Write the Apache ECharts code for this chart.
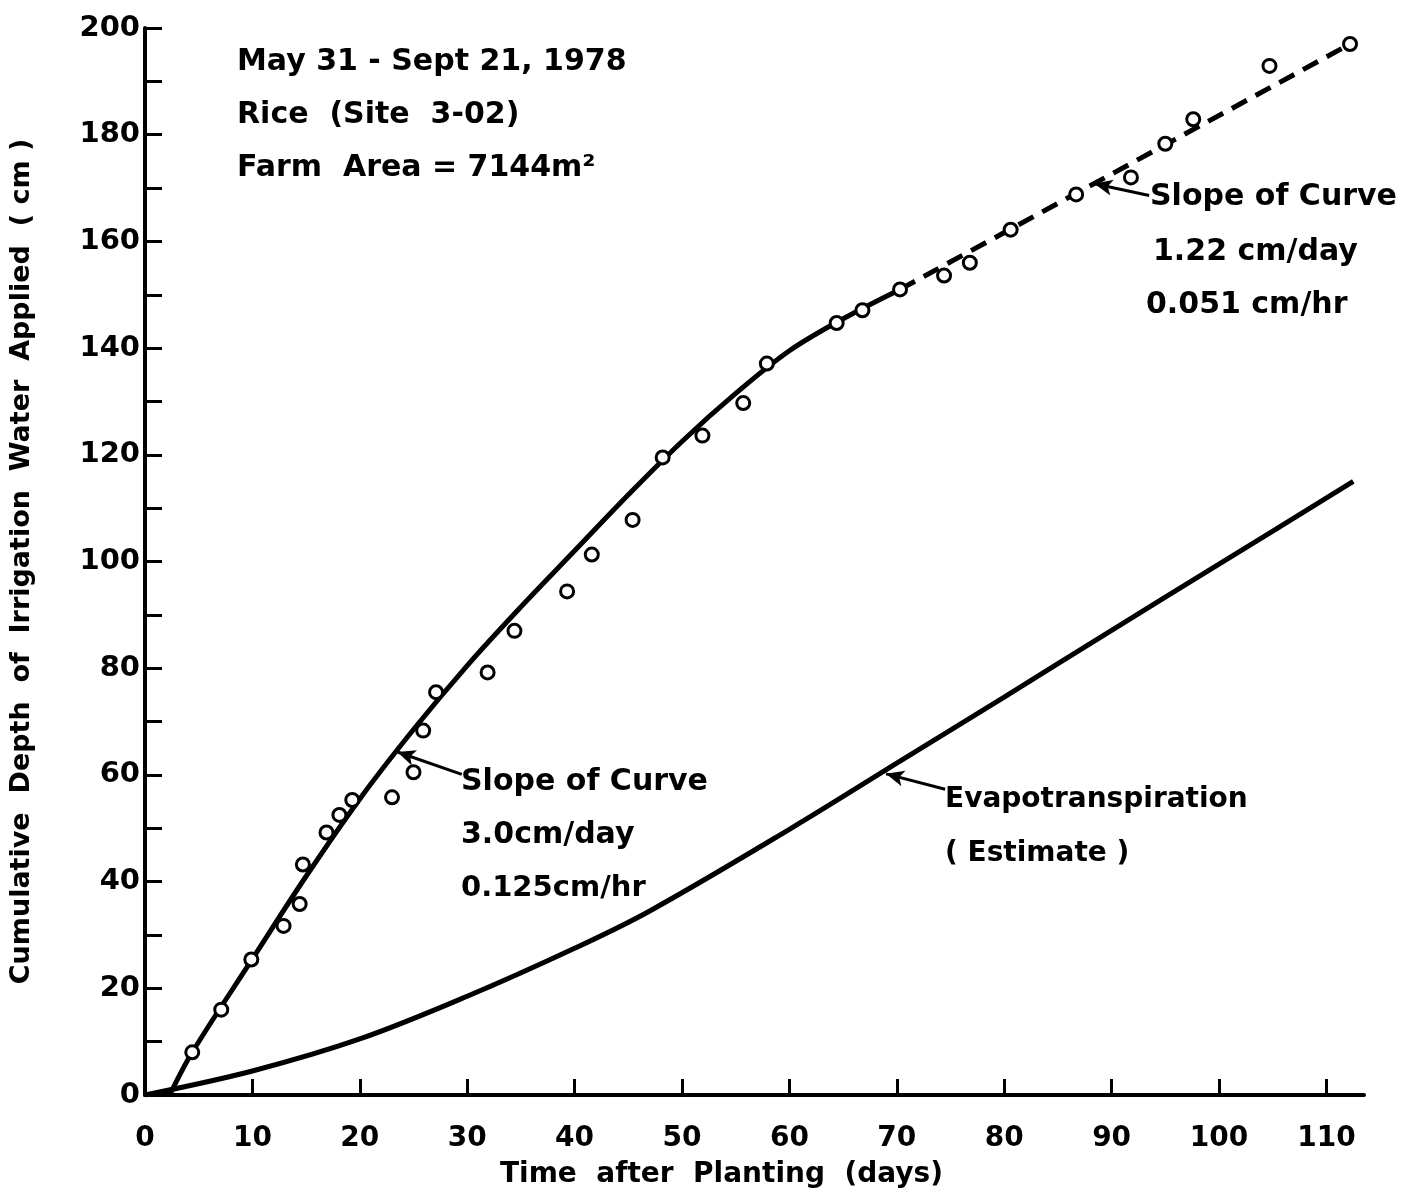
<!DOCTYPE html>
<html>
<head>
<meta charset="utf-8">
<script src="https://cdn.jsdelivr.net/npm/echarts@6/dist/echarts.min.js"></script>
<style>
  body { margin: 0; background: #fff; }
  #chart { width: 1407px; height: 1194px; }
</style>
</head>
<body>
<div id="chart"></div>
<script>
// observed cumulative depth (circles)
var obsDays  = [4.4, 7.1, 9.9, 12.9, 14.4, 14.7, 16.9, 18.1, 19.3, 23.0, 25.0, 25.9, 27.1, 31.9, 34.4, 39.3, 41.6,
                45.4, 48.2, 51.9, 55.7, 57.9, 64.4, 66.8, 70.3, 74.4, 76.8, 80.6, 86.7, 91.8, 95.0, 97.6, 104.7, 112.2];
var obsDepth = [8.0, 16.0, 25.4, 31.7, 35.8, 43.2, 49.2, 52.5, 55.3, 55.8, 60.5, 68.3, 75.5, 79.2, 87.0, 94.4, 101.3,
                107.8, 119.5, 123.6, 129.7, 137.1, 144.7, 147.1, 151.0, 153.6, 156.0, 162.2, 168.8, 172.0, 178.3, 182.9, 192.9, 197.0];

// fitted curve (solid part) and its dashed extension
var fitDays  = [2.3, 4.4, 10, 15, 20, 25, 30, 35, 40, 45, 50, 55, 60, 65, 70.3];
var fitDepth = [0, 8, 25.5, 41, 55.5, 68.5, 80.5, 91.5, 102, 112.5, 122.5, 131.5, 139.5, 145.5, 151];
var dashDays  = [70.3, 112.2];
var dashDepth = [151, 197];

// evapotranspiration estimate
var etDays  = [0, 10, 20, 30, 40, 47, 60, 70, 80, 90, 100, 112.5];
var etDepth = [0, 4.5, 10.5, 18.5, 27.5, 34.5, 49.8, 62.2, 74.6, 87.1, 99.5, 115.0];

var xTicks = [10, 20, 30, 40, 50, 60, 70, 80, 90, 100, 110];
var xLabels = [0, 10, 20, 30, 40, 50, 60, 70, 80, 90, 100, 110];

// arrow pointers [from, to] in data units
var arrows = [
  [[93.5, 168.6], [88.4, 170.8]],
  [[29.5, 60.1], [23.5, 64.3]],
  [[74.5, 57.3], [69.0, 60.2]]
];

function pairs(xs, ys) {
  return xs.map(function (x, i) { return [x, ys[i]]; });
}

var FONT = '"DejaVu Sans", sans-serif';
var chart = echarts.init(document.getElementById('chart'));

function txt(x, y, s, size) {
  return {
    type: 'text', x: x, y: y, silent: true,
    style: { text: s, font: 'bold ' + (size || 30) + 'px ' + FONT, fill: '#000', verticalAlign: 'middle' }
  };
}

var option = {
  animation: false,
  backgroundColor: '#fff',
  grid: { left: 140, right: 43, top: 28, bottom: 88 },
  xAxis: {
    type: 'value', min: 0, max: 113.5, interval: 10,
    name: 'Time  after  Planting  (days)',
    nameLocation: 'middle', nameGap: 66,
    nameTextStyle: { fontFamily: FONT, fontWeight: 'bold', fontSize: 28, color: '#000', padding: [0, 66, 0, 0] },
    axisLine: { lineStyle: { color: '#000', width: 4 } },
    axisTick: { inside: true, length: 16, lineStyle: { color: '#000', width: 3 }, customValues: xTicks },
    axisLabel: { customValues: xLabels, fontFamily: FONT, fontWeight: 'bold', fontSize: 28, color: '#000', margin: 30 },
    splitLine: { show: false }
  },
  yAxis: {
    type: 'value', min: 0, max: 200, interval: 10,
    name: 'Cumulative  Depth  of  Irrigation  Water  Applied  ( cm )',
    nameLocation: 'middle', nameGap: 110,
    nameTextStyle: { fontFamily: FONT, fontWeight: 'bold', fontSize: 27, color: '#000' },
    axisLine: { lineStyle: { color: '#000', width: 4 } },
    axisTick: { inside: true, length: 17, lineStyle: { color: '#000', width: 3 } },
    axisLabel: {
      fontFamily: FONT, fontWeight: 'bold', fontSize: 29, color: '#000', margin: 5,
      formatter: function (v) { return v % 20 === 0 ? String(v) : ''; }
    },
    splitLine: { show: false }
  },
  series: [
    {
      type: 'line', data: pairs(etDays, etDepth), smooth: 0.35, symbol: 'none',
      lineStyle: { color: '#000', width: 5 }
    },
    {
      type: 'line', data: pairs(fitDays, fitDepth), smooth: 0.35, symbol: 'none',
      lineStyle: { color: '#000', width: 5 },
      markLine: {
        silent: true, symbol: ['none', 'arrow'], symbolSize: [12, 18],
        lineStyle: { color: '#000', width: 3, type: 'solid' },
        label: { show: false },
        data: arrows.map(function (a) { return [{ coord: a[0] }, { coord: a[1] }]; })
      }
    },
    {
      type: 'line', data: pairs(dashDays, dashDepth), symbol: 'none',
      lineStyle: { color: '#000', width: 5, type: [17, 10] }
    },
    {
      type: 'scatter', data: pairs(obsDays, obsDepth), symbol: 'circle', symbolSize: 13,
      itemStyle: { color: '#fff', borderColor: '#000', borderWidth: 3, opacity: 1 },
      z: 5
    }
  ],
  graphic: [
    txt(237, 62, 'May 31 - Sept 21, 1978'),
    txt(237, 115, 'Rice  (Site  3-02)'),
    txt(237, 168, 'Farm  Area = 7144m\u00B2'),
    txt(1150, 197, 'Slope of Curve'),
    txt(1153, 252, '1.22 cm/day'),
    txt(1146, 305, '0.051 cm/hr'),
    txt(461, 782, 'Slope of Curve'),
    txt(461, 835, '3.0cm/day'),
    txt(461, 888, '0.125cm/hr', 29),
    txt(945, 800, 'Evapotranspiration', 28),
    txt(945, 854, '( Estimate )', 28)
  ]
};

chart.setOption(option);
</script>
</body>
</html>
